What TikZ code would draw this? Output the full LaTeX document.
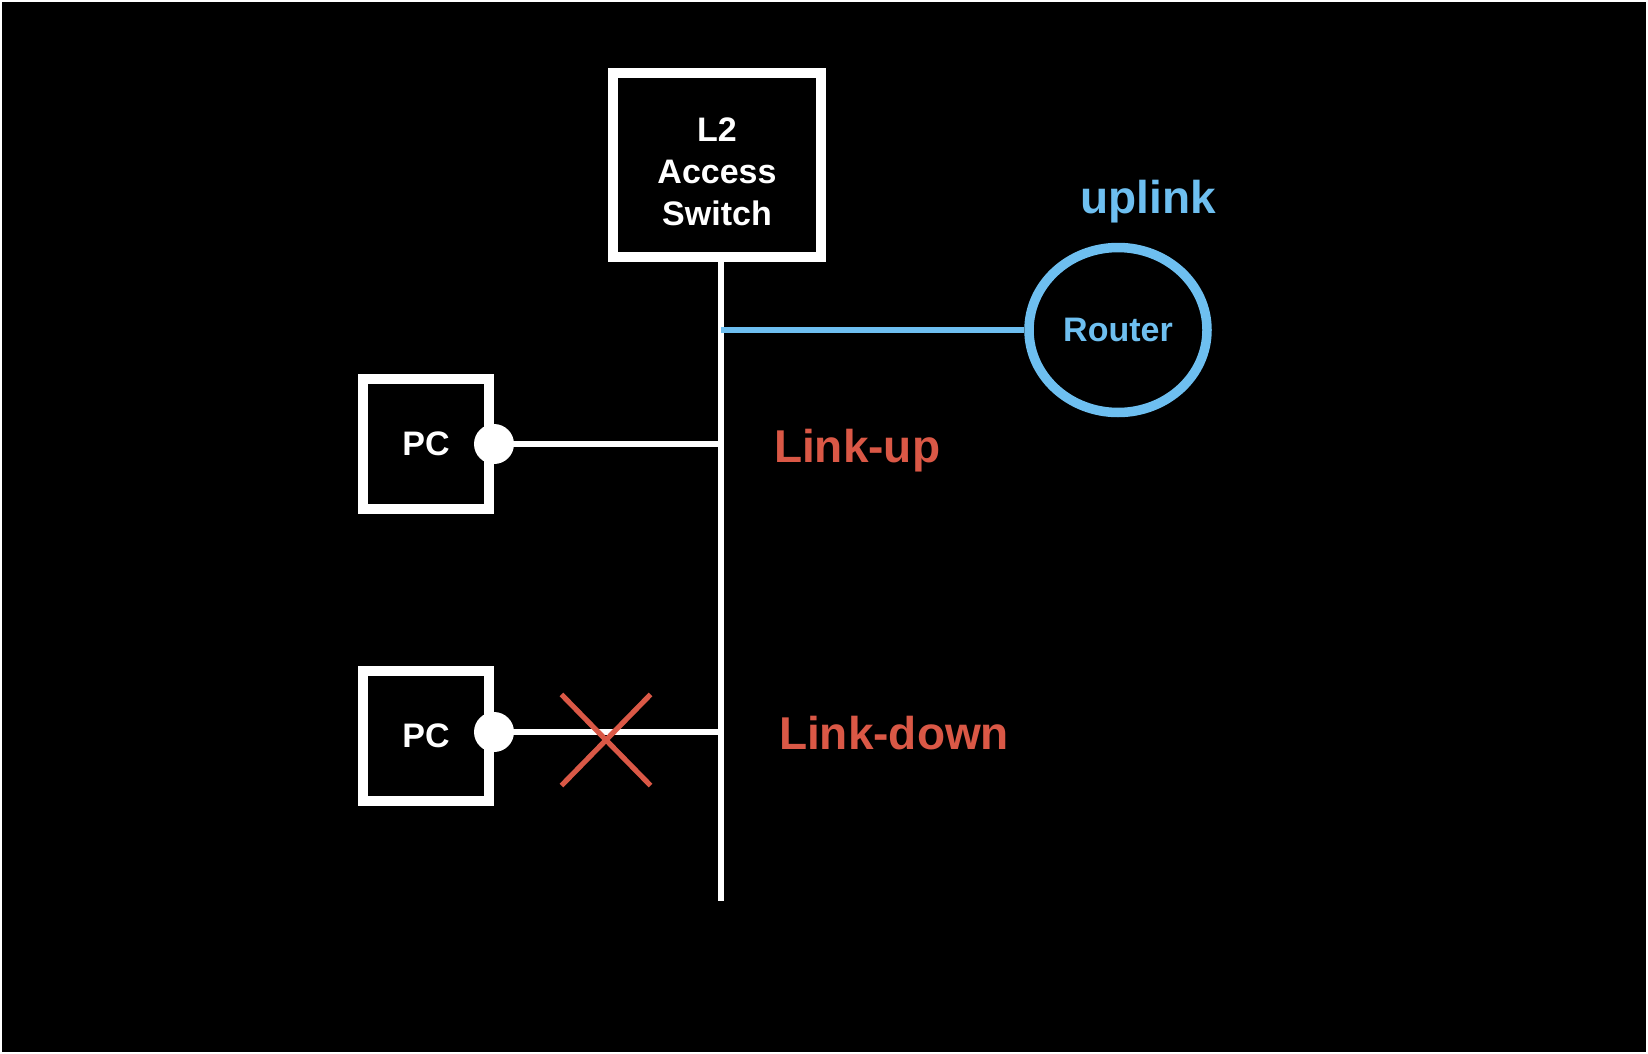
\documentclass[tikz,border=0pt]{standalone}
\usepackage{fontspec}
\setmainfont{Liberation Sans}
\usepackage{tikz}
\usetikzlibrary{shapes.geometric, shapes.misc}
\definecolor{sky}{RGB}{110, 191, 240}
\definecolor{warn}{RGB}{218, 88, 70}

\tikzset{
  device/.style={draw=white, line width=5pt, rectangle, text=white, align=center,
    font=\fontsize{17}{21.15}\selectfont\bfseries},
  port/.style={circle, fill=white, minimum size=20pt, inner sep=0pt},
  wire/.style={white, line width=2.6pt},
  tag/.style={font=\fontsize{23}{27}\selectfont\bfseries}
}

\begin{document}
\begin{tikzpicture}[x=0.5pt, y=-0.5pt]
  \fill [white] (0, 0) rectangle (1648, 1054);
  \fill [black] (2, 2) rectangle (1646, 1052);

  \node [device, minimum width=104pt, minimum height=92pt, text height=61pt] (switch)
    at (717, 165) {L2\\Access\\Switch};
  \coordinate (busend) at (721, 901);
  \draw [wire] (switch.south -| busend) -- (busend);

  \node [ellipse, draw=sky, line width=4.75pt, minimum width=89pt, minimum height=82.5pt,
    text=sky, font=\fontsize{17}{21}\selectfont\bfseries] (router) at (1118, 330) {Router};
  \draw [sky, line width=2.6pt] (busend |- router.west) -- (router.west);
  \node [tag, text=sky, anchor=base] (uplink) at (1148, 213) {uplink};

  \node [device, minimum width=63pt, minimum height=64.75pt] (pc1) at (426, 444) {PC};
  \node [port] (dot1) at (pc1.east) {};
  \draw [wire] (dot1.center) -- (dot1 -| busend);
  \node [tag, text=warn, anchor=base west] (linkup) at (767, 462) {Link-up};

  \node [device, minimum width=63pt, minimum height=64.75pt] (pc2) at (426, 736) {PC};
  \node [port] (dot2) at ([yshift=2pt]pc2.east) {};
  \draw [wire] (dot2.center) -- (dot2 -| busend);
  \node [cross out, draw=warn, line width=2.6pt, minimum width=42pt, minimum height=43pt,
    inner sep=0pt] (cut) at (606, 740) {};
  \node [tag, text=warn, anchor=base west] (linkdown) at (772, 749) {Link-down};

\end{tikzpicture}
\end{document}
